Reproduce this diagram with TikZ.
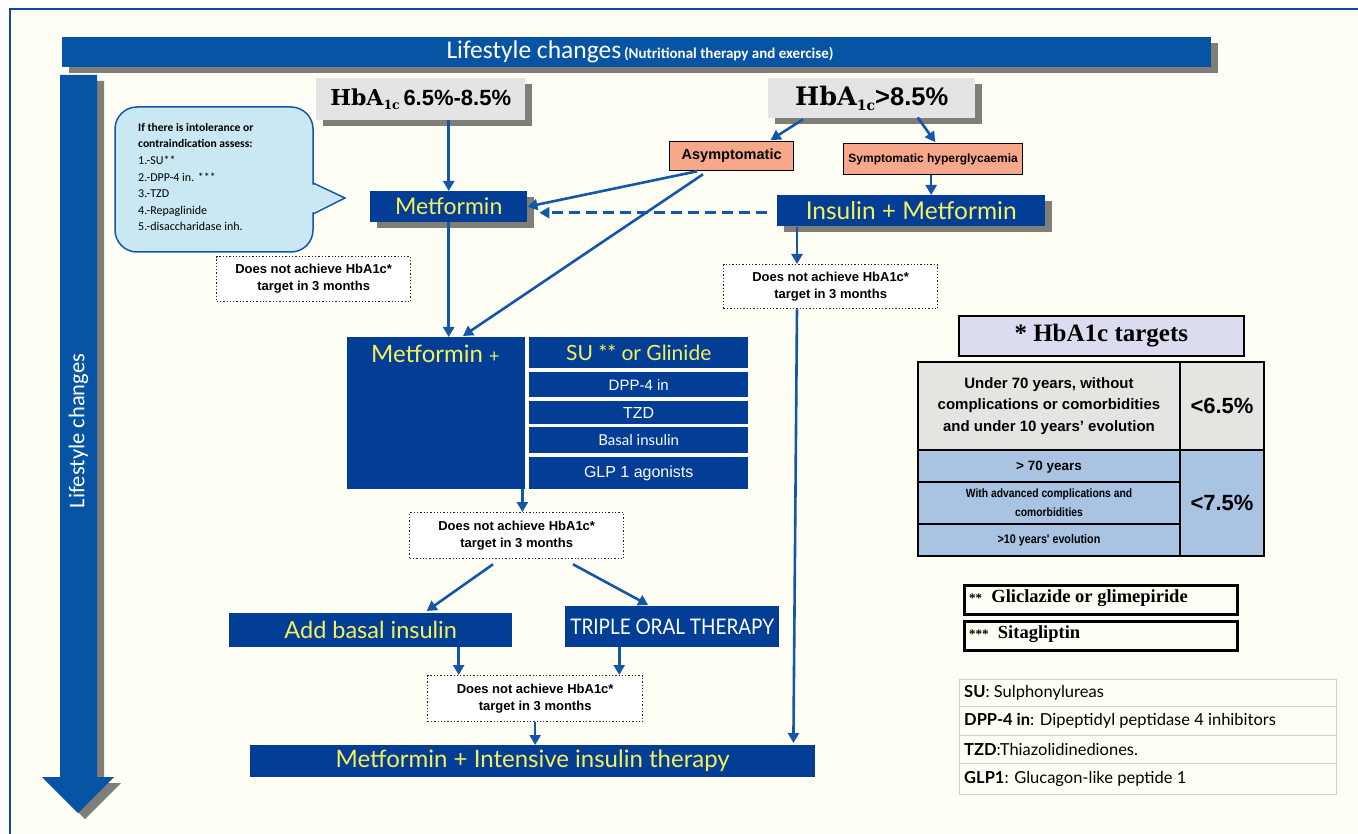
\documentclass[tikz,border=0pt]{standalone}
\usepackage{fontspec}
\setmainfont{Liberation Sans}
\newfontfamily\gill{Lato}
\newfontfamily\gillnarrow[FakeStretch=0.88]{Lato}
\newfontfamily\cali{Carlito}
\newfontfamily\slab{DejaVu Serif}
\newfontfamily\tnr{Liberation Serif}
\newfontfamily\narrowf[FakeStretch=0.86]{Liberation Sans}
\usetikzlibrary{arrows.meta,calc,shadows}
\definecolor{bannerblue}{RGB}{8,84,164}
\definecolor{boxblue}{RGB}{3,62,150}
\definecolor{arrowblue}{RGB}{20,86,170}
\definecolor{ylw}{RGB}{246,240,90}
\definecolor{cream}{RGB}{255,254,244}
\definecolor{hgray}{RGB}{228,228,228}
\definecolor{salmon}{RGB}{248,168,138}
\definecolor{calloutblue}{RGB}{202,232,244}
\definecolor{lav}{RGB}{220,220,240}
\definecolor{tgray}{RGB}{230,228,225}
\definecolor{tblue}{RGB}{168,196,226}
\definecolor{framblue}{RGB}{20,72,160}
\newcommand\fsz[2]{\fontsize{#1}{#2}\selectfont}
\newcommand\hbAtxt[2]{{\slab\bfseries HbA\raisebox{#2}{\fsz{#1}{#1}1c}}}
\tikzset{
  shd/.style={drop shadow={shadow xshift=7pt,shadow yshift=-6pt,fill=black,opacity=0.5}},
  corner/.style={anchor=north west,inner sep=0pt,align=center},
  bluebox/.style={corner,fill=boxblue,draw=none},
  hbox/.style={corner,fill=hgray,shd},
  salbox/.style={corner,fill=salmon,draw=black,line width=1.3pt,font=\bfseries},
  dotbox/.style={corner,fill=white,draw=black!85,dotted,line width=1.3pt,font=\bfseries\fsz{13}{17}},
  arr/.style={draw=arrowblue,line width=2.6pt,-{Triangle[length=10pt,width=11pt]}},
  tcell/.style={draw=black,line width=2.6pt},
  fnbox/.style={anchor=north west,inner sep=0pt,draw=black,line width=2.6pt,fill=cream},
  abrow/.style={anchor=west,inner sep=0pt,font=\gill\fsz{16.5}{16.5}},
}
\begin{document}
\begin{tikzpicture}[x=1pt,y=-1pt]
\useasboundingbox (0,0) rectangle (1358,834);
\fill[white] (0,0) rectangle (1358,834);
\fill[cream] (10,9) rectangle (1358,834);
\draw[framblue,line width=2.5pt] (10,834) -- (10,9) -- (1358,9);

% top banner
\node[corner,fill=bannerblue,shd,minimum width=1149pt,minimum height=30pt] (banner) at (62,37) {};
\node[text=white,inner sep=0pt] (bannert) at (640,52) {{\cali\fsz{25.5}{25.5}Lifestyle changes} {\cali\bfseries\fsz{15}{15}(Nutritional therapy and exercise)}};

% vertical arrow
\fill[bannerblue,shd] (60,75) -- (97,75) -- (97,777) -- (114,777) -- (78,813) -- (42,777) -- (60,777) -- cycle;
\node[rotate=90,text=white,inner sep=0pt] (vtext) at (78.5,431) {\cali\fsz{22.5}{22.5}Lifestyle changes};

% callout
\draw[fill=calloutblue,draw=arrowblue,line width=1.5pt,rounded corners=22pt] (115,107) rectangle (313,252);
\fill[calloutblue] (311,184) -- (345,198) -- (311,213) -- cycle;
\draw[arrowblue,line width=1.5pt,line join=miter] (313,183) -- (345,198) -- (313,214);
\node[anchor=north west,align=left,inner sep=0pt,font=\cali\fsz{12}{16.6}] (callt) at (138,123)
  {{\fsz{11.6}{16.6}\bfseries If there is intolerance or}\\{\fsz{11.6}{16.6}\bfseries contraindication assess:}\\1.-SU**\\2.-DPP-4 in. ***\\3.-TZD\\4.-Repaglinide\\5.-disaccharidase inh.};

% HbA1c boxes
\node[hbox,minimum width=209pt,minimum height=42pt] (h1) at (316,78)
  {\fsz{22}{22}\hbAtxt{12.5}{-4pt}\,{\bfseries 6.5\%-8.5\%}};
\node[hbox,minimum width=207pt,minimum height=40pt] (h2) at (768,78)
  {\fsz{25.5}{25.5}\hbAtxt{14}{-4.5pt}{\bfseries >8.5\%}};

% salmon boxes
\node[salbox,minimum width=124pt,minimum height=29pt,font=\bfseries\fsz{14.5}{14.5}] (asym) at (669,141) {Asymptomatic};
\node[salbox,minimum width=179pt,minimum height=31pt,font=\bfseries\fsz{12}{12}] (sym) at (843,143) {Symptomatic hyperglycaemia};

% blue boxes
\node[bluebox,shd,minimum width=157pt,minimum height=31pt,text=ylw,font=\gill\fsz{23}{23}] (met) at (370,191) {Metformin};
\node[bluebox,shd,minimum width=268pt,minimum height=31pt,text=ylw,font=\gill\fsz{24.5}{24.5}] (ins) at (777,195) {Insulin + Metformin};

% dotted boxes
\node[dotbox,minimum width=194pt,minimum height=45pt] (d1) at (216,256) {Does not achieve HbA1c*\\target in 3 months};
\node[dotbox,minimum width=214pt,minimum height=44pt] (d2) at (723,264) {Does not achieve HbA1c*\\target in 3 months};

% Metformin + block
\node[bluebox,minimum width=178pt,minimum height=152pt] (blk) at (347,337) {};
\node[anchor=north west,inner sep=0pt,text=ylw,font=\gill\fsz{24}{24}] (blkt) at (371,345) {Metformin {\fsz{18}{18}+}};
\node[bluebox,minimum width=219pt,minimum height=31pt,text=ylw,font=\gill\fsz{21}{21}] (r1) at (529,337) {SU ** or Glinide};
\node[bluebox,minimum width=219pt,minimum height=25pt,text=white,font=\fsz{15}{15}] (r2) at (529,372) {DPP-4 in};
\node[bluebox,minimum width=219pt,minimum height=23pt,text=white,font=\fsz{16}{16}] (r3) at (529,401) {TZD};
\node[bluebox,minimum width=219pt,minimum height=26pt,text=white,font=\gill\fsz{15}{15}] (r4) at (529,427) {Basal insulin};
\node[bluebox,minimum width=219pt,minimum height=32pt,text=white,font=\fsz{16}{16}] (r5) at (529,457) {GLP 1 agonists};

\node[dotbox,minimum width=214pt,minimum height=46pt] (d3) at (409,512) {Does not achieve HbA1c*\\target in 3 months};

\node[bluebox,minimum width=283pt,minimum height=34pt,text=ylw,font=\gill\fsz{23.5}{23.5}] (addb) at (229,613) {Add basal insulin};
\node[bluebox,minimum width=214pt,minimum height=41pt,text=white,font=\gillnarrow\fsz{21.5}{21.5}] (tri) at (565,606) {TRIPLE ORAL THERAPY};
\node[dotbox,minimum width=215pt,minimum height=46pt] (d4) at (427,675) {Does not achieve HbA1c*\\target in 3 months};
\node[bluebox,minimum width=565pt,minimum height=32pt,text=ylw,font=\gill\fsz{24}{24}] (int) at (250,745) {Metformin + Intensive insulin therapy};

% connector anchor points
\coordinate (pSym) at ($(sym.south)+(-2,0)$);
\coordinate (pIns) at ($(ins.south west)+(20,1)$);
\coordinate (pBlk) at ($(blk.south east)+(-3,0)$);
\coordinate (pAdd) at ($(addb.south)+(88,0)$);
\coordinate (pTri) at ($(tri.south)+(-53,0)$);

% connectors
\draw[arr] (met.north |- h1.south) -- (met.north);
\draw[arr] ($(h2.south west)+(35,1)$) -- ($(asym.north)+(39,-1)$);
\draw[arr] ($(h2.south)+(46,-1)$) -- ($(sym.north)+(2,-1)$);
\draw[arr] (pSym) -- (pSym |- ins.north);
\draw[arr] ($(asym.south west)+(28,0)$) -- (met.east);
\draw[arr] ($(asym.south west)+(34,3)$) -- ($(blk.north west)+(116,-1)$);
\draw[arr,dash pattern=on 11pt off 6pt] ($(ins.west)+(-10,2)$) -- ($(met.east)+(12,6)$);
\draw[arr] (met.south) -- (met.south |- blk.north);
\draw[arr] (pIns) -- (pIns |- d2.north);
\draw[arr] ($(d2.south west)+(74,0)$) -- ($(int.north east)+(-22,-2)$);
\draw[arr] (pBlk) -- (pBlk |- d3.north);
\draw[arr] ($(d3.south west)+(84,5)$) -- ($(addb.north)+(56,-2)$);
\draw[arr] ($(d3.south west)+(164,5)$) -- ($(tri.north)+(-24,-1)$);
\draw[arr] (pAdd) -- (pAdd |- d4.north);
\draw[arr] (pTri) -- (pTri |- d4.north);
\draw[arr] (d4.south) -- (d4.south |- int.north);

% HbA1c targets table
\node[corner,fill=lav,draw=black,line width=1.6pt,minimum width=285pt,minimum height=40pt,font=\tnr\bfseries\fsz{25}{25}] (tt) at (958,315) {* HbA1c targets};
\fill[tgray] (918,362) rectangle (1264,450);
\fill[tblue] (918,450) rectangle (1264,556);
\draw[tcell] (918,362) rectangle (1264,556);
\draw[tcell] (1180,362) -- (1180,556);
\draw[tcell] (918,450) -- (1264,450);
\draw[tcell] (918,482) -- (1180,482);
\draw[tcell] (918,524) -- (1180,524);
\node[align=center,inner sep=0pt,font=\bfseries\fsz{15}{21.5}] (c1) at (1049,406) {Under 70 years, without\\complications or comorbidities\\and under 10 years' evolution};
\node[inner sep=0pt,font=\bfseries\fsz{22}{22}] (c2) at (1222,406) {<6.5\%};
\node[inner sep=0pt,font=\bfseries\fsz{13.5}{13.5}] (c3) at (1049,467) {> 70 years};
\node[align=center,inner sep=0pt,font=\narrowf\bfseries\fsz{12}{19}] (c4) at (1049,503) {With advanced complications and\\comorbidities};
\node[inner sep=0pt,font=\narrowf\bfseries\fsz{12.5}{12.5}] (c5) at (1049,540) {>10 years' evolution};
\node[inner sep=0pt,font=\bfseries\fsz{22}{22}] (c6) at (1222,503) {<7.5\%};

% footnote boxes
\node[fnbox,minimum width=273pt,minimum height=29pt] (fn1) at (963,584) {};
\node[anchor=west,inner sep=0pt,font=\tnr\bfseries\fsz{18.5}{18.5}] (fn1t) at (969,598.5) {{\fsz{13}{13}**}\ \ Gliclazide or glimepiride};
\node[fnbox,minimum width=273pt,minimum height=29pt] (fn2) at (963,620) {};
\node[anchor=west,inner sep=0pt,font=\tnr\bfseries\fsz{18.5}{18.5}] (fn2t) at (969,634.5) {{\fsz{13}{13}***}\ \ Sitagliptin};

% abbreviations
\draw[black!18,line width=1pt] (959,679) rectangle (1336,794);
\draw[black!18,line width=1pt] (959,706) -- (1336,706) (959,735) -- (1336,735) (959,763) -- (1336,763);
\node[abrow] (ab1) at (964,692.5) {\textbf{SU}: Sulphonylureas};
\node[abrow] (ab2) at (964,720.5) {\textbf{DPP-4 in}: Dipeptidyl peptidase 4 inhibitors};
\node[abrow] (ab3) at (964,749) {\textbf{TZD}:Thiazolidinediones.};
\node[abrow] (ab4) at (964,778.5) {\textbf{GLP1}: Glucagon-like peptide 1};
\end{tikzpicture}
\end{document}
